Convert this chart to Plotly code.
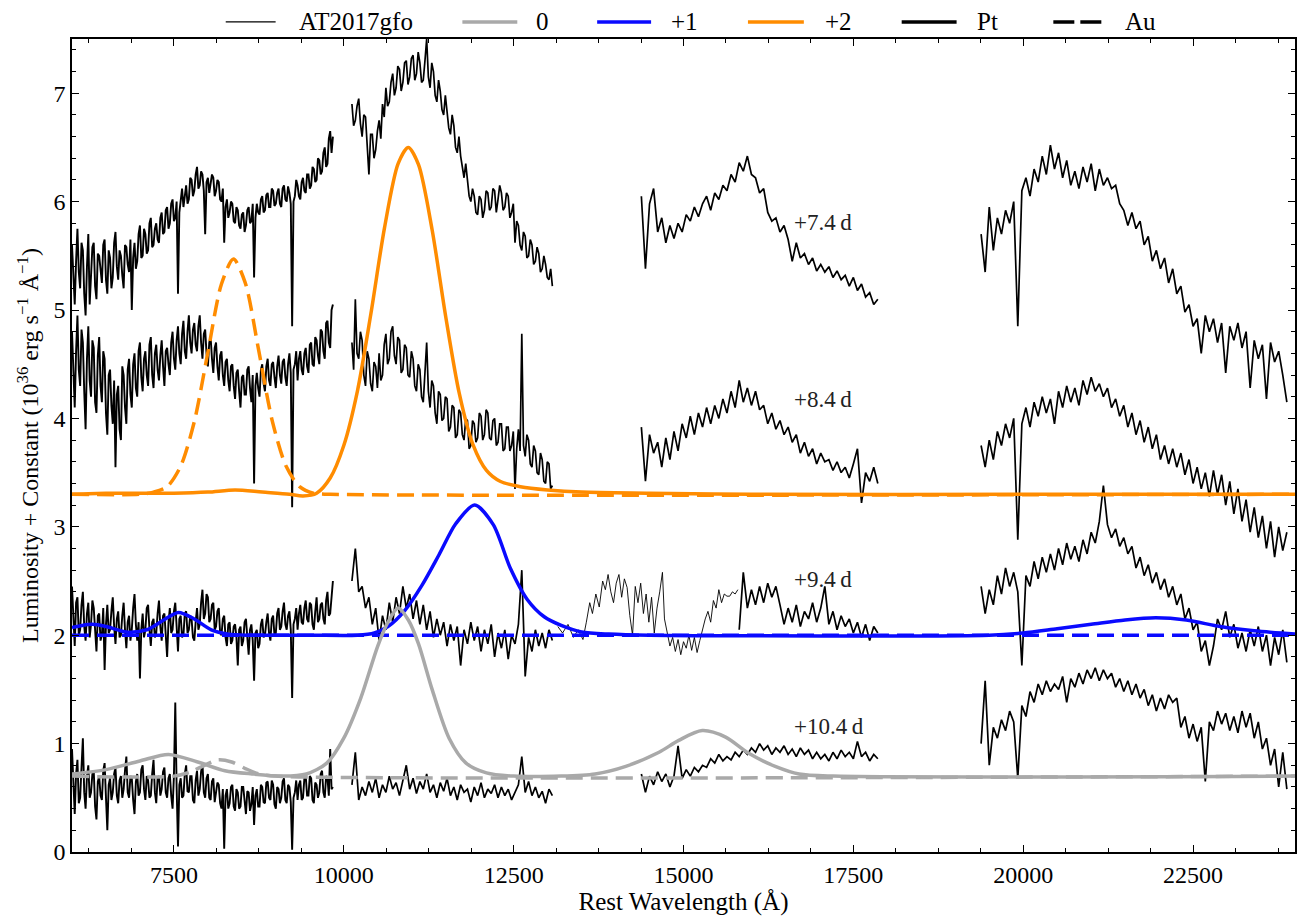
import numpy as np
import plotly.graph_objects as go

# ---------------------------------------------------------------
# Observed spectra of AT2017gfo (luminosity + constant offset)
# Each epoch is split into its observed wavelength windows.
# ---------------------------------------------------------------
OPT_RANGE = (6000, 9840)     # optical window
NIR_RANGE = (10120, 13070)   # J-band window
H_RANGE = (14380, 17860)     # H-band window
K_RANGE = (19380, 23880)     # K-band window

ep74_opt = [5.60, 5.30, 5.05, 5.45, 5.75, 5.35, 5.20, 5.62, 5.55, 5.15, 4.95, 5.40, 5.70, 5.05, 5.30, 5.58,
            5.62, 5.22, 5.10, 5.52, 5.50, 5.38, 5.25, 5.60, 5.65, 5.28, 5.15, 5.55, 5.48, 5.20, 5.30, 5.62,
            5.72, 5.40, 5.28, 5.55, 5.50, 5.32, 5.20, 5.60, 5.58, 5.42, 5.35, 5.65, 5.00, 5.48, 5.62, 5.38,
            5.45, 5.70, 5.78, 5.48, 5.50, 5.75, 5.70, 5.52, 5.55, 5.80, 5.85, 5.58, 5.60, 5.75, 5.80, 5.65,
            5.62, 5.85, 5.90, 5.70, 5.72, 5.92, 5.95, 5.75, 5.80, 5.98, 6.02, 5.82, 5.85, 6.00, 5.15, 5.90,
            6.05, 6.12, 5.95, 6.08, 6.15, 5.98, 6.02, 6.22, 6.20, 6.05, 6.10, 6.25, 6.32, 6.12, 6.15, 6.28,
            6.25, 6.10, 5.70, 6.18, 6.22, 6.08, 6.15, 6.25, 6.22, 6.05, 6.10, 6.20, 6.18, 6.02, 6.00, 6.12,
            5.62, 5.95, 6.02, 5.85, 5.90, 6.00, 5.98, 5.82, 5.80, 5.95, 5.92, 5.78, 5.75, 5.88, 5.90, 5.72,
            5.78, 5.92, 5.95, 5.80, 5.82, 5.98, 5.30, 5.85, 5.98, 5.90, 5.88, 6.02, 6.05, 5.90, 5.92, 6.06,
            6.08, 5.95, 5.95, 6.12, 6.10, 5.96, 5.98, 6.08, 6.12, 5.98, 5.95, 6.12, 6.15, 6.02, 6.00, 6.14,
            6.08, 5.98, 4.85, 6.00, 6.05, 6.20, 6.15, 6.05, 6.02, 6.18, 6.22, 6.10, 6.08, 6.25, 6.25, 6.12,
            6.15, 6.32, 6.30, 6.18, 6.20, 6.40, 6.38, 6.25, 6.28, 6.45, 6.50, 6.32, 6.35, 6.58, 6.65, 6.45,
            6.60]
ep74_nir = [6.90, 6.70, 6.75, 6.88, 6.95, 6.72, 6.60, 6.80, 6.78, 6.55, 6.25, 6.62, 6.62, 6.40, 6.48, 6.65,
            6.75, 6.58, 6.90, 6.78, 7.05, 6.88, 6.92, 7.10, 7.18, 6.98, 7.05, 7.25, 7.22, 7.02, 7.10, 7.28,
            7.30, 7.08, 7.15, 7.32, 7.35, 7.12, 7.18, 7.38, 7.28, 7.10, 7.12, 7.30, 7.50, 7.15, 7.05, 7.28,
            7.20, 6.98, 6.92, 7.12, 7.02, 6.85, 6.80, 6.98, 6.85, 6.68, 6.62, 6.80, 6.70, 6.50, 6.45, 6.60,
            6.42, 6.30, 6.22, 6.35, 6.18, 6.05, 6.00, 6.12, 6.05, 5.90, 5.88, 6.05, 6.02, 5.85, 5.92, 6.10,
            6.08, 5.92, 5.95, 6.12, 6.10, 5.90, 6.02, 6.15, 6.08, 5.92, 5.95, 6.08, 6.05, 5.85, 5.90, 5.98,
            5.62, 5.82, 5.78, 5.60, 5.55, 5.72, 5.68, 5.48, 5.50, 5.65, 5.60, 5.42, 5.45, 5.58, 5.52, 5.35,
            5.38, 5.50, 5.42, 5.30, 5.28, 5.38, 5.22]
ep74_h = [6.05, 5.38, 5.98, 6.12, 5.72, 5.85, 5.62, 5.78, 5.66, 5.80, 5.72, 5.88, 5.82, 5.95, 5.86, 5.98,
          6.05, 5.92, 6.08, 6.02, 6.15, 6.10, 6.25, 6.18, 6.36, 6.28, 6.42, 6.25, 6.22, 6.08, 6.12, 5.90,
          5.82, 5.85, 5.72, 5.78, 5.65, 5.45, 5.62, 5.48, 5.52, 5.42, 5.48, 5.36, 5.42, 5.35, 5.40, 5.30,
          5.36, 5.28, 5.32, 5.22, 5.30, 5.18, 5.24, 5.12, 5.16, 5.05, 5.10]
ep74_k = [5.70, 5.35, 5.95, 5.55, 5.85, 5.70, 5.92, 5.80, 6.00, 4.85, 6.10, 6.22, 6.05, 6.30, 6.18, 6.42,
          6.25, 6.52, 6.30, 6.45, 6.22, 6.38, 6.15, 6.28, 6.12, 6.32, 6.18, 6.35, 6.10, 6.30, 6.15, 6.22,
          6.12, 6.15, 5.98, 5.92, 5.78, 5.90, 5.75, 5.82, 5.60, 5.68, 5.45, 5.55, 5.38, 5.48, 5.25, 5.38,
          5.15, 5.22, 4.98, 5.05, 4.85, 4.92, 4.60, 4.95, 4.80, 4.92, 4.70, 4.88, 4.42, 4.85, 4.72, 4.88,
          4.65, 4.80, 4.28, 4.72, 4.55, 4.68, 4.18, 4.70, 4.52, 4.62, 4.40, 4.15]

ep84_opt = [4.80, 4.40, 4.10, 4.62, 4.95, 4.45, 4.30, 4.82, 4.70, 4.25, 3.90, 4.55, 4.85, 4.35, 4.20, 4.72,
            4.65, 4.15, 4.05, 4.58, 4.75, 4.30, 4.15, 4.62, 4.55, 4.05, 3.85, 4.40, 4.45, 4.12, 3.95, 4.35,
            3.55, 4.22, 4.30, 3.90, 3.80, 4.48, 4.40, 4.10, 3.95, 4.45, 4.55, 4.22, 4.10, 4.50, 4.60, 4.28,
            4.20, 4.62, 4.70, 4.38, 4.25, 4.55, 4.62, 4.40, 4.30, 4.68, 4.75, 4.40, 4.28, 4.60, 4.68, 4.45,
            4.35, 4.58, 4.72, 4.48, 4.30, 4.62, 4.65, 4.50, 4.40, 4.70, 4.80, 4.55, 4.45, 4.72, 4.85, 4.60,
            4.50, 4.78, 4.90, 4.62, 4.55, 4.80, 4.95, 4.70, 4.60, 4.82, 4.88, 4.68, 4.62, 4.85, 4.95, 4.70,
            4.55, 4.78, 4.82, 4.60, 4.48, 4.70, 4.75, 4.55, 4.42, 4.65, 4.70, 4.48, 4.35, 4.58, 4.62, 4.40,
            4.30, 4.52, 4.55, 4.35, 4.25, 4.48, 4.50, 4.30, 4.18, 4.42, 4.45, 4.25, 4.10, 4.38, 4.40, 4.22,
            4.22, 4.45, 4.48, 4.28, 4.15, 4.40, 3.40, 4.30, 4.42, 4.28, 4.20, 4.45, 4.50, 4.32, 4.25, 4.48,
            4.55, 4.35, 4.30, 4.50, 4.52, 4.38, 4.28, 4.48, 4.58, 4.40, 4.32, 4.52, 4.55, 4.38, 4.30, 4.50,
            4.60, 4.42, 3.18, 4.45, 4.50, 4.62, 4.35, 4.55, 4.62, 4.45, 4.40, 4.60, 4.65, 4.48, 4.42, 4.68,
            4.70, 4.50, 4.48, 4.75, 4.72, 4.58, 4.50, 4.82, 4.80, 4.62, 4.55, 4.88, 4.90, 4.70, 4.65, 5.00,
            5.05]
ep84_nir = [4.70, 4.45, 5.10, 4.60, 4.55, 4.80, 4.72, 4.40, 4.30, 4.62, 4.55, 4.32, 4.25, 4.52, 4.48, 4.28,
            4.60, 4.35, 4.40, 4.68, 4.78, 4.50, 4.55, 4.80, 4.85, 4.58, 4.50, 4.75, 4.72, 4.42, 4.45, 4.68,
            4.65, 4.40, 4.38, 4.62, 4.55, 4.30, 4.25, 4.50, 4.45, 4.20, 4.15, 4.40, 4.70, 4.25, 4.10, 4.35,
            4.30, 4.05, 3.95, 4.25, 4.22, 3.98, 4.00, 4.20, 4.18, 3.88, 3.92, 4.12, 4.10, 3.82, 3.85, 4.08,
            4.05, 3.85, 3.80, 4.00, 3.98, 3.72, 3.75, 3.98, 3.95, 3.78, 3.82, 4.05, 4.02, 3.80, 3.85, 4.08,
            4.05, 3.82, 3.80, 3.98, 4.00, 3.75, 3.78, 3.95, 3.95, 3.70, 3.72, 3.92, 3.92, 3.70, 3.75, 3.88,
            3.35, 3.72, 3.90, 3.70, 4.78, 3.75, 3.65, 3.85, 3.80, 3.58, 3.55, 3.75, 3.70, 3.50, 3.48, 3.68,
            3.62, 3.42, 3.40, 3.60, 3.58, 3.35, 3.38]
ep84_h = [3.92, 3.42, 3.85, 3.68, 3.78, 3.55, 3.82, 3.62, 3.88, 3.70, 3.95, 3.82, 4.02, 3.85, 4.05, 3.92,
          4.10, 3.95, 4.12, 4.00, 4.18, 4.05, 4.25, 4.10, 4.35, 4.15, 4.28, 4.12, 4.25, 4.08, 4.12, 3.95,
          4.05, 3.90, 3.98, 3.85, 3.92, 3.78, 3.85, 3.68, 3.78, 3.65, 3.72, 3.58, 3.68, 3.60, 3.62, 3.52,
          3.60, 3.50, 3.55, 3.45, 3.58, 3.72, 3.22, 3.50, 3.42, 3.55, 3.40]
ep84_k = [3.75, 3.55, 3.80, 3.62, 3.88, 3.75, 3.95, 3.82, 4.00, 2.88, 3.95, 4.10, 3.92, 4.15, 4.02, 4.20,
          4.05, 4.18, 3.95, 4.25, 4.10, 4.30, 4.15, 4.28, 4.12, 4.35, 4.22, 4.38, 4.25, 4.32, 4.20, 4.28,
          4.10, 4.18, 4.02, 4.12, 3.92, 4.05, 3.85, 3.98, 3.78, 3.92, 3.72, 3.85, 3.62, 3.75, 3.58, 3.72,
          3.55, 3.68, 3.48, 3.62, 3.40, 3.55, 3.35, 3.50, 3.28, 3.52, 3.30, 3.48, 3.20, 3.42, 3.12, 3.35,
          3.05, 3.25, 2.95, 3.18, 2.90, 3.10, 2.80, 3.05, 2.72, 3.00, 2.78, 2.95]

ep94_opt = [2.45, 2.15, 1.90, 2.30, 2.35, 2.00, 2.05, 2.28, 2.40, 2.08, 1.95, 2.20, 2.30, 1.98, 2.10, 2.32,
            2.25, 2.05, 1.85, 2.18, 2.20, 1.95, 2.00, 2.25, 1.68, 2.10, 2.28, 2.02, 2.05, 2.22, 2.35, 2.08,
            1.92, 2.15, 2.22, 1.98, 2.00, 2.18, 2.30, 2.05, 1.88, 2.12, 2.18, 1.95, 2.05, 2.25, 2.38, 2.10,
            1.95, 2.12, 1.60, 2.05, 2.20, 1.98, 2.05, 2.25, 2.28, 2.05, 1.90, 2.12, 2.15, 1.98, 2.02, 2.20,
            2.32, 2.08, 1.95, 2.18, 2.20, 2.00, 1.80, 2.12, 2.25, 2.02, 2.05, 2.22, 2.30, 2.08, 1.85, 2.15,
            2.18, 1.98, 2.00, 2.20, 2.22, 2.02, 2.05, 2.18, 2.15, 1.98, 1.95, 2.12, 2.25, 2.05, 2.10, 2.30,
            2.42, 2.15, 2.20, 2.38, 2.35, 2.12, 2.15, 2.28, 2.30, 2.05, 2.08, 2.22, 2.25, 2.02, 2.00, 2.15,
            2.18, 1.98, 1.90, 2.10, 2.12, 1.92, 1.95, 2.08, 2.10, 1.98, 1.72, 2.05, 2.08, 1.90, 1.95, 2.12,
            2.15, 1.98, 1.82, 2.05, 2.10, 1.95, 1.58, 2.02, 2.05, 1.88, 1.92, 2.10, 2.15, 1.98, 2.00, 2.12,
            2.20, 2.02, 1.95, 2.15, 2.18, 2.00, 2.02, 2.20, 2.25, 2.05, 2.08, 2.22, 2.30, 2.10, 2.05, 2.18,
            2.22, 2.05, 1.42, 2.10, 2.15, 2.25, 2.05, 2.20, 2.28, 2.12, 2.10, 2.25, 2.32, 2.15, 2.12, 2.30,
            2.28, 2.10, 2.05, 2.22, 2.35, 2.12, 2.15, 2.28, 2.30, 2.15, 2.10, 2.32, 2.40, 2.18, 2.20, 2.35,
            2.50]
ep94_nir = [2.50, 2.80, 2.40, 2.45, 2.25, 2.35, 2.10, 2.25, 1.95, 2.18, 2.05, 2.30, 2.12, 2.35, 2.20, 2.45,
            2.25, 2.38, 2.15, 2.32, 2.10, 2.28, 2.05, 2.22, 1.98, 2.15, 2.00, 2.12, 1.90, 2.10, 1.95, 2.08,
            1.72, 2.05, 1.92, 2.12, 1.95, 2.08, 1.85, 2.05, 1.92, 2.10, 1.80, 2.02, 1.88, 2.05, 1.78, 2.00,
            1.92, 2.10, 2.60, 1.62, 1.98, 1.85, 2.05, 1.90, 2.02, 1.88, 2.05, 1.95]
# low signal-to-noise stretch across the telluric gap (drawn thin)
ep94_gap_wave = [13150, 13220, 13300, 13380, 13450, 13520, 13570, 13620, 13660, 13710, 13760, 13810, 13850,
                 13890, 13930, 13970, 14010, 14050, 14090, 14130, 14170, 14210, 14250, 14290, 14330, 14370,
                 14410, 14450, 14490, 14530, 14570, 14610, 14650, 14690, 14720, 14760, 14800, 14840, 14880,
                 14920, 14960, 15000, 15040, 15080, 15120, 15160, 15200, 15240, 15280, 15320, 15360, 15400,
                 15440, 15480, 15520, 15560, 15600, 15640, 15680, 15720, 15760, 15800]
ep94_gap = [2.08, 2.02, 2.10, 1.98, 2.05, 1.96, 2.12, 2.30, 2.20, 2.38, 2.26, 2.50, 2.42, 2.56, 2.40, 2.30,
            2.48, 2.56, 2.35, 2.52, 2.44, 2.18, 2.00, 2.45, 2.30, 2.48, 2.20, 2.38, 2.12, 2.35, 2.02, 2.25,
            2.40, 2.58, 2.15, 2.02, 1.90, 1.98, 1.85, 1.96, 1.82, 1.94, 1.88, 2.00, 1.86, 1.98, 1.84, 1.95,
            2.05, 2.15, 2.22, 2.12, 2.32, 2.25, 2.42, 2.30, 2.38, 2.36, 2.36, 2.40, 2.38, 2.42]
EP94_H_RANGE = (15820, 17860)
ep94_h = [2.05, 2.58, 2.25, 2.42, 2.28, 2.45, 2.30, 2.48, 2.35, 2.45, 2.28, 2.10, 2.25, 2.12, 2.28, 2.08,
          2.22, 2.15, 2.30, 2.12, 2.25, 2.45, 2.10, 2.22, 2.05, 2.18, 2.08, 2.15, 2.02, 2.12, 1.98, 2.10,
          1.95, 2.08, 2.02]
ep94_k = [2.45, 2.20, 2.42, 2.28, 2.55, 2.38, 2.62, 2.45, 2.58, 2.40, 1.72, 2.55, 2.45, 2.68, 2.52, 2.72,
          2.58, 2.75, 2.60, 2.80, 2.65, 2.85, 2.70, 2.82, 2.68, 2.88, 2.75, 2.95, 2.85, 3.05, 3.38, 3.02,
          2.90, 2.98, 2.82, 2.90, 2.75, 2.82, 2.62, 2.72, 2.55, 2.65, 2.48, 2.58, 2.42, 2.52, 2.35, 2.45,
          2.28, 2.38, 2.15, 2.25, 2.05, 2.12, 1.85, 1.95, 1.72, 1.90, 2.15, 2.05, 2.22, 1.98, 2.10, 1.88,
          2.02, 1.85, 2.05, 1.90, 2.08, 1.85, 2.00, 1.72, 1.98, 1.82, 2.05, 1.75]

ep104_opt = [0.95, 0.60, 0.35, 0.72, 0.85, 0.45, 0.50, 0.78, 1.05, 0.55, 0.40, 0.70, 0.80, 0.50, 0.55, 0.72,
             0.75, 0.42, 0.30, 0.65, 0.70, 0.52, 0.48, 0.75, 0.82, 0.50, 0.20, 0.62, 0.68, 0.48, 0.55, 0.72,
             0.78, 0.52, 0.45, 0.66, 0.70, 0.50, 0.58, 0.75, 0.88, 0.55, 0.50, 0.70, 0.68, 0.48, 0.35, 0.65,
             0.72, 0.52, 0.55, 0.76, 0.80, 0.58, 0.48, 0.70, 0.66, 0.50, 0.52, 0.72, 0.85, 0.55, 0.45, 0.68,
             0.70, 0.52, 0.58, 0.74, 0.78, 0.55, 0.50, 0.68, 0.72, 0.52, 0.40, 0.70, 1.38, 0.60, 0.05, 0.62,
             0.68, 0.50, 0.52, 0.72, 0.80, 0.56, 0.55, 0.70, 0.70, 0.48, 0.45, 0.66, 0.75, 0.52, 0.58, 0.74,
             0.82, 0.55, 0.50, 0.68, 0.72, 0.50, 0.48, 0.65, 0.68, 0.46, 0.55, 0.64, 0.62, 0.45, 0.40, 0.58,
             0.03, 0.52, 0.58, 0.40, 0.45, 0.60, 0.62, 0.42, 0.38, 0.58, 0.55, 0.40, 0.42, 0.60, 0.60, 0.44,
             0.35, 0.56, 0.55, 0.38, 0.44, 0.60, 0.25, 0.52, 0.58, 0.42, 0.42, 0.62, 0.60, 0.46, 0.45, 0.64,
             0.65, 0.50, 0.48, 0.66, 0.62, 0.44, 0.40, 0.60, 0.58, 0.45, 0.50, 0.65, 0.68, 0.48, 0.45, 0.62,
             0.60, 0.46, 0.02, 0.50, 0.55, 0.66, 0.48, 0.62, 0.66, 0.48, 0.50, 0.68, 0.70, 0.52, 0.52, 0.70,
             0.68, 0.48, 0.45, 0.64, 0.62, 0.50, 0.55, 0.72, 0.75, 0.55, 0.50, 0.70, 0.68, 0.52, 0.95, 0.58,
             0.60]
ep104_nir = [0.62, 0.92, 0.48, 0.60, 0.52, 0.65, 0.55, 0.68, 0.50, 0.62, 0.55, 0.70, 0.58, 0.64, 0.52, 0.66,
             0.80, 0.58, 0.68, 0.54, 0.65, 0.58, 0.72, 0.55, 0.62, 0.50, 0.64, 0.56, 0.68, 0.52, 0.60, 0.48,
             0.62, 0.55, 0.58, 0.46, 0.60, 0.52, 0.64, 0.50, 0.58, 0.54, 0.62, 0.50, 0.60, 0.52, 0.58, 0.48,
             0.55, 0.62, 0.88, 0.55, 0.65, 0.52, 0.60, 0.50, 0.56, 0.45, 0.58, 0.52]
ep104_h = [0.72, 0.55, 0.70, 0.62, 0.74, 0.65, 0.72, 0.60, 0.70, 0.98, 0.68, 0.76, 0.70, 0.78, 0.74, 0.80,
           0.78, 0.86, 0.82, 0.90, 0.84, 0.88, 0.85, 0.92, 0.88, 0.94, 0.90, 0.96, 0.92, 1.00, 0.94, 0.98,
           0.90, 0.96, 0.92, 0.98, 0.90, 0.95, 0.88, 0.96, 0.90, 0.94, 0.86, 0.92, 0.86, 0.90, 0.84, 0.92,
           0.86, 0.94, 0.88, 0.92, 0.86, 1.02, 0.88, 0.92, 0.84, 0.90, 0.86]
ep104_k = [1.00, 1.58, 0.80, 1.15, 1.05, 1.22, 1.12, 1.30, 1.20, 0.68, 1.35, 1.25, 1.48, 1.38, 1.55, 1.45,
           1.58, 1.48, 1.55, 1.50, 1.62, 1.38, 1.60, 1.52, 1.65, 1.55, 1.68, 1.60, 1.70, 1.58, 1.68, 1.60,
           1.65, 1.52, 1.60, 1.48, 1.58, 1.45, 1.55, 1.42, 1.50, 1.35, 1.45, 1.30, 1.42, 1.32, 1.45, 1.38,
           1.42, 1.15, 1.25, 1.05, 1.18, 1.02, 1.15, 0.65, 1.20, 1.12, 1.30, 1.18, 1.28, 1.12, 1.25, 1.10,
           1.30, 1.15, 1.28, 1.05, 1.20, 0.95, 1.05, 0.80, 0.95, 0.60, 0.92, 0.58]

epoch_labels = ["+7.4\u2009d", "+8.4\u2009d", "+9.4\u2009d", "+10.4\u2009d"]
label_wave = 16600
label_lum = [5.81, 4.17, 2.51, 1.16]

# ---------------------------------------------------------------
# Model emission profiles (Pt solid, Au dashed) per ionisation state
# ---------------------------------------------------------------
pt0_wave = [6000, 6500, 7000, 7420, 7850, 8250, 8650, 9100, 9450, 9750, 10000, 10250, 10500, 10650, 10800,
            10950, 11100, 11300, 11550, 11800, 12100, 12500, 13200, 13700, 14150, 14640, 14930, 15276, 15620,
            15960, 16350, 16700, 17200, 24000]
pt0_lum = [0.72, 0.76, 0.84, 0.90, 0.83, 0.75, 0.72, 0.70, 0.72, 0.82, 1.05, 1.42, 1.90, 2.12, 2.25,
           2.14, 1.92, 1.50, 1.05, 0.82, 0.73, 0.70, 0.70, 0.72, 0.79, 0.92, 1.03, 1.12, 1.06,
           0.91, 0.79, 0.72, 0.70, 0.70]
au0_wave = [6000, 7500, 7750, 7950, 8150, 8350, 8550, 8750, 9000, 24000]
au0_lum = [0.70, 0.70, 0.74, 0.80, 0.85, 0.83, 0.77, 0.72, 0.70, 0.70]

pt1_wave = [6000, 6150, 6300, 6500, 6800, 7100, 7350, 7567, 7800, 8050, 8300, 8600, 9500, 10200, 10450,
            10650, 10900, 11150, 11400, 11650, 11926, 12200, 12450, 12700, 12950, 13200, 13500, 13900, 14500,
            19500, 20000, 20500, 21000, 21500, 21950, 22400, 22900, 23400, 24000]
pt1_lum = [2.07, 2.09, 2.10, 2.08, 2.03, 2.05, 2.14, 2.21, 2.15, 2.05, 2.01, 2.00, 2.00, 2.00, 2.02,
           2.08, 2.23, 2.46, 2.74, 3.03, 3.20, 3.02, 2.62, 2.33, 2.17, 2.09, 2.03, 2.01, 2.00,
           2.00, 2.02, 2.06, 2.10, 2.14, 2.16, 2.14, 2.08, 2.04, 2.01]
au1_wave = [6000, 24000]
au1_lum = [2.00, 2.00]

pt2_wave = [6000, 6500, 7000, 7500, 8000, 8400, 8800, 9200, 9400, 9600, 9800, 10000, 10200, 10400, 10600,
            10800, 10950, 11100, 11300, 11500, 11700, 11900, 12100, 12300, 12600, 13000, 13500, 14500, 16000,
            20000, 24000]
pt2_lum = [3.30, 3.31, 3.31, 3.31, 3.32, 3.34, 3.32, 3.30, 3.285, 3.31, 3.45, 3.75, 4.25, 4.97, 5.76,
           6.35, 6.50, 6.34, 5.74, 4.94, 4.23, 3.76, 3.52, 3.42, 3.37, 3.34, 3.32, 3.31, 3.30,
           3.30, 3.30]
au2_wave = [6000, 7000, 7200, 7400, 7600, 7800, 8000, 8200, 8376, 8550, 8750, 8950, 9150, 9350, 9550, 9800, 24000]
au2_lum = [3.30, 3.30, 3.32, 3.37, 3.56, 3.97, 4.61, 5.24, 5.47, 5.25, 4.62, 3.97, 3.56, 3.37, 3.31, 3.30, 3.30]

# ---------------------------------------------------------------
GREY = "#a9a9a9"
BLUE = "#0a0aff"
ORANGE = "#ff8c00"
FONT = "Liberation Serif"
DASH = "17px,8px"

fig = go.Figure()


def add_spectrum(wave, lum, width=1.7):
    fig.add_trace(go.Scatter(x=wave, y=lum, mode="lines",
                             line=dict(color="black", width=width),
                             hoverinfo="skip", showlegend=False))


def grid(rng, values):
    return np.linspace(rng[0], rng[1], len(values))


for opt, nir, hb, kb in [(ep74_opt, ep74_nir, ep74_h, ep74_k),
                         (ep84_opt, ep84_nir, ep84_h, ep84_k),
                         (ep94_opt, ep94_nir, None, ep94_k),
                         (ep104_opt, ep104_nir, ep104_h, ep104_k)]:
    add_spectrum(grid(OPT_RANGE, opt), opt, width=1.9)
    add_spectrum(grid(NIR_RANGE, nir), nir)
    if hb is not None:
        add_spectrum(grid(H_RANGE, hb), hb)
    add_spectrum(grid(K_RANGE, kb), kb)

add_spectrum(ep94_gap_wave, ep94_gap, width=0.9)
add_spectrum(grid(EP94_H_RANGE, ep94_h), ep94_h)


def add_model(wave, lum, color, dash=None):
    fig.add_trace(go.Scatter(x=wave, y=lum, mode="lines",
                             line=dict(color=color, width=3.5, dash=dash, shape="spline", smoothing=0.8),
                             hoverinfo="skip", showlegend=False))


add_model(au1_wave, au1_lum, BLUE, DASH)
add_model(pt1_wave, pt1_lum, BLUE)
add_model(au0_wave, au0_lum, GREY, DASH)
add_model(pt0_wave, pt0_lum, GREY)
add_model(au2_wave, au2_lum, ORANGE, DASH)
add_model(pt2_wave, pt2_lum, ORANGE)

for text, y in zip(epoch_labels, label_lum):
    fig.add_annotation(x=label_wave, y=y, text=text, showarrow=False, xanchor="left", yanchor="middle",
                       font=dict(family=FONT, size=23, color="#222"))

# legend row above the axes
legend_items = [
    ("AT2017gfo", "black", 1.3, None, 0.1257, 0.1665, 0.1837),
    ("0", GREY, 3.5, None, 0.3192, 0.3641, 0.3780),
    ("+1", BLUE, 3.5, None, 0.4294, 0.4735, 0.4882),
    ("+2", ORANGE, 3.5, None, 0.5527, 0.5984, 0.6139),
    ("Pt", "black", 3.5, None, 0.6784, 0.7233, 0.7380),
    ("Au", "black", 3.5, "21px,6px", 0.8024, 0.8433, 0.8596),
]
LEG_Y = 1.021
for name, color, width, dash, x0, x1, xt in legend_items:
    fig.add_shape(type="line", xref="paper", yref="paper", x0=x0, x1=x1, y0=LEG_Y, y1=LEG_Y,
                  line=dict(color=color, width=width, dash=dash))
    fig.add_annotation(xref="paper", yref="paper", x=xt, y=LEG_Y, text=name, showarrow=False,
                       xanchor="left", yanchor="middle", font=dict(family=FONT, size=25, color="black"))

axis_common = dict(showline=True, linecolor="black", linewidth=1.5, mirror="ticks", ticks="inside",
                   ticklen=7, tickwidth=1.3, tickcolor="black", showgrid=False, zeroline=False,
                   tickfont=dict(family=FONT, size=24, color="black"))

fig.update_xaxes(range=[6000, 24000], tick0=0, dtick=2500, tickformat="d",
                 minor=dict(dtick=625, ticks="inside", ticklen=4, tickwidth=1, tickcolor="black"),
                 title=dict(text="Rest Wavelength (Å)", font=dict(family=FONT, size=25), standoff=4),
                 **axis_common)
fig.update_yaxes(range=[0, 7.5], tick0=0, dtick=1, tickformat="d",
                 minor=dict(dtick=0.2, ticks="inside", ticklen=4, tickwidth=1, tickcolor="black"),
                 title=dict(text="Luminosity + Constant (10<sup>36</sup> erg s<sup>\u22121</sup> Å<sup>\u22121</sup>)",
                            font=dict(family=FONT, size=24), standoff=8),
                 **axis_common)

fig.update_layout(width=1297, height=917, margin=dict(l=72, r=0, t=39, b=65),
                  plot_bgcolor="white", paper_bgcolor="white", showlegend=False,
                  font=dict(family=FONT, size=24, color="black"))

fig.write_html("out.html")
